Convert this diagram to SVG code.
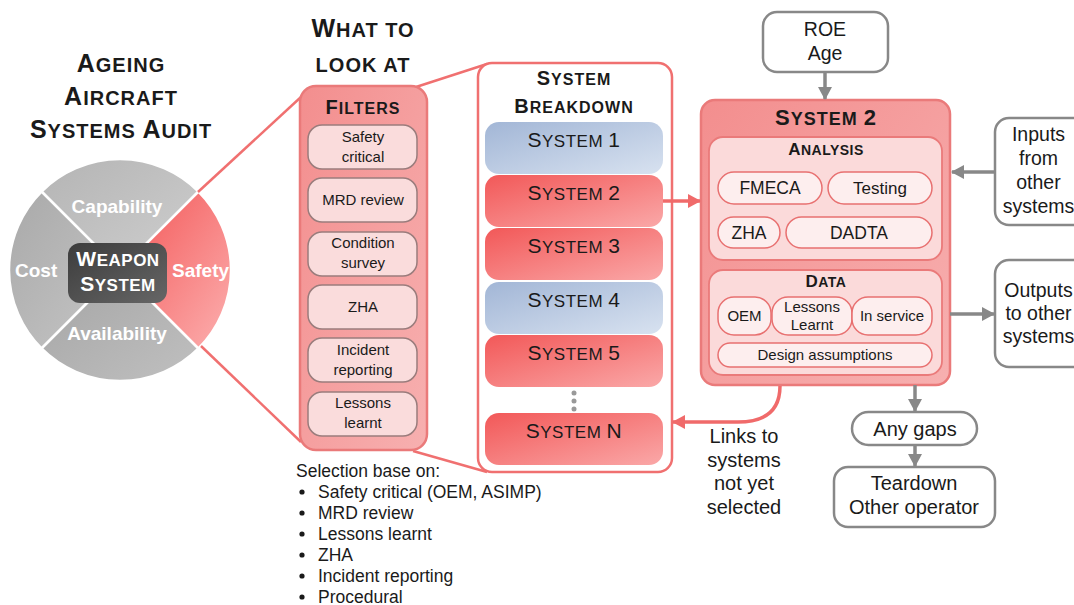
<svg xmlns="http://www.w3.org/2000/svg" width="1074" height="605" viewBox="0 0 1074 605">
<defs>
<linearGradient id="gCap" x1="0" y1="0" x2="1" y2="1"><stop offset="0" stop-color="#b4b4b4"/><stop offset="1" stop-color="#cfcfcf"/></linearGradient>
<linearGradient id="gCost" x1="0" y1="0" x2="1" y2="1"><stop offset="0" stop-color="#a9a9a9"/><stop offset="1" stop-color="#c6c6c6"/></linearGradient>
<linearGradient id="gAvail" x1="0" y1="0" x2="1" y2="1"><stop offset="0" stop-color="#a4a4a4"/><stop offset="1" stop-color="#c0c0c0"/></linearGradient>
<linearGradient id="gSafe" x1="0" y1="0" x2="1" y2="1"><stop offset="0" stop-color="#f35454"/><stop offset="1" stop-color="#fcb0b0"/></linearGradient>
<linearGradient id="gWeap" x1="0" y1="0" x2="1" y2="1"><stop offset="0" stop-color="#3c3c3c"/><stop offset="1" stop-color="#666666"/></linearGradient>
<linearGradient id="gBlue" x1="0" y1="0" x2="1" y2="1"><stop offset="0" stop-color="#a2b6d6"/><stop offset="1" stop-color="#d8e2f0"/></linearGradient>
<linearGradient id="gRed" x1="0" y1="0" x2="1" y2="1"><stop offset="0" stop-color="#f25858"/><stop offset="1" stop-color="#faa8a8"/></linearGradient>
<linearGradient id="gPink" x1="0" y1="0" x2="1" y2="1"><stop offset="0" stop-color="#f38e8e"/><stop offset="1" stop-color="#f7b0b0"/></linearGradient>
<marker id="aGray" markerUnits="userSpaceOnUse" markerWidth="14" markerHeight="14" refX="12" refY="7" orient="auto"><path d="M0,0 L13,7 L0,14 Z" fill="#888888"/></marker>
<marker id="aRed" markerUnits="userSpaceOnUse" markerWidth="14" markerHeight="14" refX="12" refY="7" orient="auto"><path d="M0,0 L13,7 L0,14 Z" fill="#f06a6a"/></marker>
</defs>
<style>
text{font-family:"Liberation Sans",Arial,sans-serif;fill:#1a1a1a}
.h{font-weight:bold;font-size:20px;letter-spacing:1px}
.h .b{font-size:25px}
.h2{font-weight:bold;font-size:16px;letter-spacing:1px}
.h2 .b{font-size:20px}
.h3{font-weight:bold;font-size:14px;letter-spacing:0.5px}
.h3 .b{font-size:17px}
.sys{font-size:17px;letter-spacing:0.5px}
.sys .b{font-size:21px}
.wl{font-weight:bold;font-size:19px;fill:#ffffff}
.wh{font-weight:bold;font-size:17px;fill:#ffffff;letter-spacing:0.5px}
.wh .b{font-size:21px}
.f15{font-size:15px}
.f17{font-size:17.5px}
.f19{font-size:19.5px}
.f20{font-size:20px}
.c{text-anchor:middle}
.redline{stroke:#f07070;stroke-width:2.5;fill:none}
.gbox{fill:#ffffff;stroke:#888888;stroke-width:2.5}
.fitem{fill:#fadcdc;stroke:#9a7c7c;stroke-width:1.5}
.sub{fill:#fbdada;stroke:#ea7a7a;stroke-width:1.8}
.aitem{fill:#fdeeee;stroke:#e87070;stroke-width:1.5}
.garrow{stroke:#888888;stroke-width:3.5;fill:none;marker-end:url(#aGray)}
.rarrow{stroke:#f06a6a;stroke-width:3.5;fill:none;marker-end:url(#aRed)}
</style>

<g id="title">
<text class="h c" x="121" y="72"><tspan class="b">A</tspan>GEING</text>
<text class="h c" x="121" y="105"><tspan class="b">A</tspan>IRCRAFT</text>
<text class="h c" x="121" y="138"><tspan class="b">S</tspan>YSTEMS <tspan class="b">A</tspan>UDIT</text>
</g>

<g id="weapon-wheel">
<path d="M120,270 L41.5,191.5 A111,111 0 0,1 198.5,191.5 Z" fill="url(#gCap)" stroke="#ffffff" stroke-width="2.5"/>
<path d="M120,270 L41.5,348.5 A111,111 0 0,1 41.5,191.5 Z" fill="url(#gCost)" stroke="#ffffff" stroke-width="2.5"/>
<path d="M120,270 L198.5,348.5 A111,111 0 0,1 41.5,348.5 Z" fill="url(#gAvail)" stroke="#ffffff" stroke-width="2.5"/>
<path d="M120,270 L198.5,191.5 A111,111 0 0,1 198.5,348.5 Z" fill="url(#gSafe)" stroke="#ffffff" stroke-width="2.5"/>
<rect x="68" y="243" width="99" height="60" rx="12" fill="url(#gWeap)"/>
<text class="wl c" x="117" y="213">Capability</text>
<text class="wl" x="15" y="277">Cost</text>
<text class="wl" x="172" y="277">Safety</text>
<text class="wl c" x="117" y="340">Availability</text>
<text class="wh c" x="118" y="266"><tspan class="b">W</tspan>EAPON</text>
<text class="wh c" x="118" y="291"><tspan class="b">S</tspan>YSTEM</text>
</g>

<g id="zoom-lines">
<line class="redline" x1="198" y1="192" x2="301" y2="97"/>
<line class="redline" x1="201" y1="346" x2="301" y2="442"/>
<line class="redline" x1="416" y1="87" x2="487" y2="64"/>
<line class="redline" x1="413" y1="451" x2="487" y2="472"/>
</g>

<g id="what-to-look-at">
<text class="h c" x="363" y="37"><tspan class="b">W</tspan>HAT TO</text>
<text class="h c" x="363" y="72">LOOK AT</text>
</g>

<g id="filters">
<rect x="300" y="86" width="127" height="364" rx="16" fill="url(#gPink)" stroke="#ea7a7a" stroke-width="2.5"/>
<text class="h2 c" x="363" y="114"><tspan class="b">F</tspan>ILTERS</text>
<rect class="fitem" x="308" y="125" width="109" height="44" rx="14"/>
<text class="f15 c" x="363" y="142">Safety</text><text class="f15 c" x="363" y="162">critical</text>
<rect class="fitem" x="308" y="178" width="109" height="44" rx="14"/>
<text class="f15 c" x="363" y="205">MRD review</text>
<rect class="fitem" x="308" y="232" width="109" height="44" rx="14"/>
<text class="f15 c" x="363" y="248">Condition</text><text class="f15 c" x="363" y="268">survey</text>
<rect class="fitem" x="308" y="285" width="109" height="44" rx="14"/>
<text class="f15 c" x="363" y="312">ZHA</text>
<rect class="fitem" x="308" y="338" width="109" height="44" rx="14"/>
<text class="f15 c" x="363" y="355">Incident</text><text class="f15 c" x="363" y="375">reporting</text>
<rect class="fitem" x="308" y="392" width="109" height="44" rx="14"/>
<text class="f15 c" x="363" y="408">Lessons</text><text class="f15 c" x="363" y="428">learnt</text>
</g>

<g id="selection-text">
<text class="f17" x="296" y="477">Selection base on:</text>
<g fill="#1a1a1a"><circle cx="302" cy="492" r="2.6"/><circle cx="302" cy="513" r="2.6"/><circle cx="302" cy="534" r="2.6"/><circle cx="302" cy="555" r="2.6"/><circle cx="302" cy="576" r="2.6"/><circle cx="302" cy="597" r="2.6"/></g>
<text class="f17" x="318" y="498">Safety critical (OEM, ASIMP)</text>
<text class="f17" x="318" y="519">MRD review</text>
<text class="f17" x="318" y="540">Lessons learnt</text>
<text class="f17" x="318" y="561">ZHA</text>
<text class="f17" x="318" y="582">Incident reporting</text>
<text class="f17" x="318" y="603">Procedural</text>
</g>

<g id="system-breakdown">
<rect x="478" y="63" width="194" height="409" rx="14" fill="#ffffff" stroke="#f07070" stroke-width="2.5"/>
<text class="h2 c" x="574" y="85"><tspan class="b">S</tspan>YSTEM</text>
<text class="h2 c" x="574" y="113"><tspan class="b">B</tspan>REAKDOWN</text>
<rect x="485" y="122" width="178" height="52" rx="14" fill="url(#gBlue)"/>
<text class="sys c" x="574" y="147"><tspan class="b">S</tspan>YSTEM <tspan class="b">1</tspan></text>
<rect x="485" y="175" width="178" height="52" rx="14" fill="url(#gRed)"/>
<text class="sys c" x="574" y="200"><tspan class="b">S</tspan>YSTEM <tspan class="b">2</tspan></text>
<rect x="485" y="228" width="178" height="52" rx="14" fill="url(#gRed)"/>
<text class="sys c" x="574" y="253"><tspan class="b">S</tspan>YSTEM <tspan class="b">3</tspan></text>
<rect x="485" y="282" width="178" height="52" rx="14" fill="url(#gBlue)"/>
<text class="sys c" x="574" y="307"><tspan class="b">S</tspan>YSTEM <tspan class="b">4</tspan></text>
<rect x="485" y="335" width="178" height="52" rx="14" fill="url(#gRed)"/>
<text class="sys c" x="574" y="360"><tspan class="b">S</tspan>YSTEM <tspan class="b">5</tspan></text>
<g fill="#999999"><circle cx="574" cy="393" r="2.5"/><circle cx="574" cy="401" r="2.5"/><circle cx="574" cy="409" r="2.5"/></g>
<rect x="485" y="413" width="178" height="52" rx="14" fill="url(#gRed)"/>
<text class="sys c" x="574" y="438"><tspan class="b">S</tspan>YSTEM <tspan class="b">N</tspan></text>
</g>

<g id="roe-age">
<rect class="gbox" x="763" y="12" width="125" height="60" rx="14"/>
<text class="f19 c" x="825" y="36">ROE</text>
<text class="f19 c" x="825" y="60">Age</text>
</g>

<g id="system-2">
<rect x="701" y="100" width="249" height="285" rx="14" fill="url(#gPink)" stroke="#ea7a7a" stroke-width="2.5"/>
<text class="h2 c" x="826" y="125" style="font-size:18px"><tspan class="b" style="font-size:22px">S</tspan>YSTEM <tspan class="b" style="font-size:22px">2</tspan></text>
<g id="analysis">
<rect class="sub" x="709" y="137" width="233" height="123" rx="14"/>
<text class="h3 c" x="826" y="155"><tspan class="b">A</tspan>NALYSIS</text>
<rect class="aitem" x="718" y="172" width="104" height="32" rx="16"/>
<text class="c" style="font-size:17.5px" x="770" y="194">FMECA</text>
<rect class="aitem" x="828" y="172" width="104" height="32" rx="16"/>
<text class="c" style="font-size:17px" x="880" y="194">Testing</text>
<rect class="aitem" x="718" y="217" width="62" height="31" rx="15.5"/>
<text class="c" style="font-size:17.5px" x="749" y="239">ZHA</text>
<rect class="aitem" x="786" y="217" width="146" height="31" rx="15.5"/>
<text class="c" style="font-size:17.5px" x="859" y="239">DADTA</text>
</g>
<g id="data">
<rect class="sub" x="709" y="270" width="233" height="105" rx="14"/>
<text class="h3 c" x="826" y="287"><tspan class="b">D</tspan>ATA</text>
<rect class="aitem" x="718" y="297" width="53" height="38" rx="16"/>
<text class="f15 c" x="744.5" y="321">OEM</text>
<rect class="aitem" x="772" y="297" width="80" height="38" rx="16"/>
<text class="f15 c" x="812" y="312">Lessons</text>
<text class="f15 c" x="812" y="330">Learnt</text>
<rect class="aitem" x="852" y="297" width="80" height="38" rx="16"/>
<text class="f15 c" x="892" y="321">In service</text>
<rect class="aitem" x="718" y="343" width="214" height="24" rx="12"/>
<text class="f15 c" x="825" y="360">Design assumptions</text>
</g>
</g>

<g id="inputs">
<rect class="gbox" x="995" y="118" width="95" height="107" rx="14"/>
<text class="f19 c" x="1038.5" y="141">Inputs</text>
<text class="f19 c" x="1038.5" y="165">from</text>
<text class="f19 c" x="1038.5" y="189">other</text>
<text class="f19 c" x="1038.5" y="213">systems</text>
</g>

<g id="outputs">
<rect class="gbox" x="995" y="260" width="95" height="107" rx="14"/>
<text class="f19 c" x="1038.5" y="297">Outputs</text>
<text class="f19 c" x="1038.5" y="320">to other</text>
<text class="f19 c" x="1038.5" y="343">systems</text>
</g>

<g id="any-gaps">
<rect class="gbox" x="852" y="412" width="125" height="33" rx="16.5"/>
<text class="f20 c" x="915" y="436">Any gaps</text>
</g>

<g id="teardown">
<rect class="gbox" x="834" y="467" width="161" height="60" rx="14"/>
<text class="f20 c" x="914" y="490">Teardown</text>
<text class="f20 c" x="914" y="514">Other operator</text>
</g>

<g id="links-label">
<text class="f20 c" x="744" y="443">Links to</text>
<text class="f20 c" x="744" y="467">systems</text>
<text class="f20 c" x="744" y="490">not yet</text>
<text class="f20 c" x="744" y="514">selected</text>
</g>

<g id="connectors">
<line class="rarrow" x1="663" y1="201" x2="700" y2="201"/>
<path class="rarrow" d="M780,386 Q780,422 738,422 L673,422"/>
<line class="garrow" x1="825" y1="72" x2="825" y2="99"/>
<line class="garrow" x1="995" y1="172" x2="952" y2="172"/>
<line class="garrow" x1="950" y1="314" x2="994" y2="314"/>
<line class="garrow" x1="915" y1="385" x2="915" y2="411"/>
<line class="garrow" x1="915" y1="445" x2="915" y2="466"/>
</g>
</svg>
